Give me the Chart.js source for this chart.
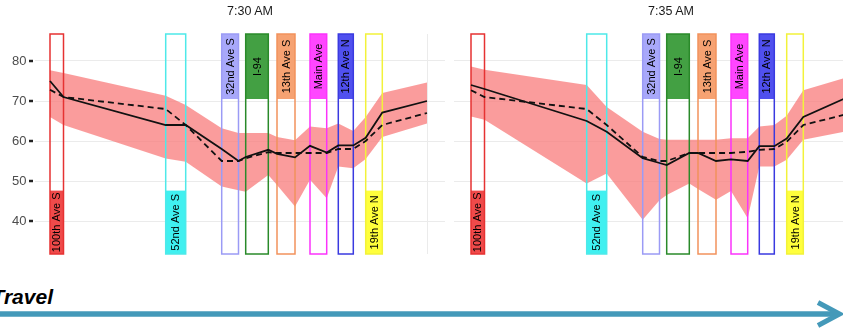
<!DOCTYPE html>
<html>
<head>
<meta charset="utf-8">
<title>Speed profile by interchange</title>
<script src="https://cdn.jsdelivr.net/npm/chart.js@4.4.1/dist/chart.umd.min.js"></script>
<style>
  html, body { margin: 0; padding: 0; background: #fff; }
  body { width: 843px; height: 335px; overflow: hidden; position: relative;
         font-family: "Liberation Sans", Arial, sans-serif; }
  canvas { position: absolute; top: 0; }
  .strip { position: absolute; top: 5.4px; font-size: 12.5px; line-height: 12.5px;
           color: #1a1a1a; transform: translateX(-50%); white-space: nowrap; }
  #travel { position: absolute; right: 790px; top: 286.2px; font-size: 21px; line-height: 21px;
            font-weight: bold; font-style: italic; color: #000; white-space: nowrap; }
  svg { position: absolute; left: 0; top: 0; }
</style>
</head>
<body>
<canvas id="am730" width="445" height="256" style="left:0"></canvas>
<canvas id="am735" width="420" height="256" style="left:446px"></canvas>
<div class="strip" style="left:250px">7:30 AM</div>
<div class="strip" style="left:671px">7:35 AM</div>
<div id="travel">Travel</div>
<svg width="843" height="335">
  <line x1="0" y1="314" x2="836" y2="314" stroke="#4499b9" stroke-width="5.5"/>
  <polyline points="818,302.5 839.5,314 818,325.5" fill="none" stroke="#4499b9" stroke-width="5" stroke-linejoin="miter"/>
</svg>
<script>
// Corridor position of each detector (arbitrary distance units along the route)
const milepost = [1.5, 2.85, 13.07, 15.07, 18.67, 20.35, 21.07, 23.33, 24.2, 26.0, 27.5, 29.17, 30.33, 31.83, 33.07, 34.73, 39.2];

// Interchange zones along the corridor
const interchanges = ['100th Ave S', '52nd Ave S', '32nd Ave S', 'I-94', '13th Ave S', 'Main Ave', '12th Ave N', '19th Ave N'];
const zoneStart = [1.5, 13.07, 18.67, 21.07, 24.2, 27.5, 30.33, 33.07];
const zoneEnd   = [2.85, 15.07, 20.35, 23.33, 26.0, 29.17, 31.83, 34.73];
const labelOnTop = [false, false, true, true, true, true, true, false];

// Speeds (mph) at 7:30 AM
const mean730   = [75, 71, 64, 64, 58, 55, 56, 57.8, 56.8, 55.9, 58.8, 57.1, 58.9, 58.9, 60.8, 67.1, 70];
const median730 = [72.8, 71, 68, 64, 55, 55, 55.7, 57.2, 57, 57, 57, 57, 58, 58, 60, 64, 67];
const upper730  = [77.7, 77, 71.3, 69, 63.2, 62, 62, 62, 61, 60.2, 63.6, 63.2, 64.4, 62.5, 66, 72, 74.6];
const lower730  = [66, 64, 55.6, 54.8, 48.6, 47.7, 47.3, 51.5, 49, 43.6, 50.3, 45.7, 53.6, 53.2, 55.5, 61, 64.4];

// Speeds (mph) at 7:35 AM
const mean735   = [74, 73, 65, 62.3, 55.7, 54.5, 54, 57, 57, 55, 55.4, 55, 58.7, 58.7, 60.6, 66, 71];
const median735 = [72.7, 71, 68, 64, 56, 55, 55, 57, 57, 57, 57, 57.3, 57.8, 58, 59.8, 64, 66.8];
const upper735  = [78.6, 77.8, 74, 68.5, 62.3, 60.5, 60.3, 60.3, 60.3, 60.3, 60.7, 60.7, 63.6, 64, 66.3, 72.7, 76];
const lower735  = [66.1, 65.3, 49.4, 51.9, 40.3, 45.2, 46.5, 49.4, 48, 45.3, 47.5, 40.7, 53.6, 53.6, 55.3, 60.3, 62.5];

const yTicks = [40, 50, 60, 70, 80];
const verticalGrid = [39.2];

const zoneLine = ['#e63232', '#4ee9e9', '#9b9bf5', '#2a8a2a', '#f2925c', '#fb33fb', '#3a3ae0', '#f2f23a'];
const zoneFill = ['#ef4a4a', '#40f0f0', '#a8a8fa', '#43a043', '#f6a272', '#ff46ff', '#5050ef', '#ffff3c'];
const topBoxBottom = 70.5;   // lower edge of the label boxes at the top
const bottomBoxTop = 47.6;   // upper edge of the label boxes at the bottom

const pts = (vals) => vals.map((v, i) => ({ x: milepost[i], y: v }));

// Interchange outlines and labels, drawn above the band and below the speed lines
const zonePlugin = {
  id: 'zones',
  afterDatasetDraw(chart, args) {
    if (args.index !== 2) return;
    const { ctx, chartArea: a, scales: { x, y } } = chart;
    ctx.save();
    for (let i = 0; i < interchanges.length; i++) {
      const x0 = x.getPixelForValue(zoneStart[i]);
      const x1 = x.getPixelForValue(zoneEnd[i]);
      const yA = labelOnTop[i] ? a.top : y.getPixelForValue(bottomBoxTop);
      const yB = labelOnTop[i] ? y.getPixelForValue(topBoxBottom) : a.bottom;
      ctx.fillStyle = zoneFill[i];
      ctx.fillRect(x0, yA, x1 - x0, yB - yA);
      ctx.strokeStyle = zoneLine[i];
      ctx.lineWidth = 1.5;
      ctx.strokeRect(x0, a.top, x1 - x0, a.bottom - a.top);
      ctx.save();
      ctx.translate((x0 + x1) / 2 + 0.5, (yA + yB) / 2);
      ctx.rotate(-Math.PI / 2);
      ctx.fillStyle = '#000';
      ctx.font = '11px "Liberation Sans", Arial, sans-serif';
      ctx.textAlign = 'center';
      ctx.textBaseline = 'middle';
      ctx.fillText(interchanges[i], 0, 0);
      ctx.restore();
    }
    ctx.restore();
  }
};

// Speed labels with short dark tick marks on the left edge
const speedAxisPlugin = {
  id: 'speedAxis',
  afterDraw(chart, args, opts) {
    if (!opts.show) return;
    const { ctx, chartArea: a, scales: { y } } = chart;
    ctx.save();
    ctx.strokeStyle = '#222';
    ctx.lineWidth = 2.5;
    ctx.fillStyle = '#4d4d4d';
    ctx.font = '13px "Liberation Sans", Arial, sans-serif';
    ctx.textAlign = 'right';
    ctx.textBaseline = 'middle';
    for (const v of yTicks) {
      const py = y.getPixelForValue(v);
      ctx.beginPath();
      ctx.moveTo(a.left - 6, py);
      ctx.lineTo(a.left - 2, py);
      ctx.stroke();
      ctx.fillText(String(v), a.left - 8.5, py + 0.5);
    }
    ctx.restore();
  }
};

function speedChart(id, mean, median, upper, lower, cfg) {
  return new Chart(document.getElementById(id), {
    type: 'line',
    data: {
      datasets: [
        { data: pts(mean), borderColor: '#111', borderWidth: 1.8, pointRadius: 0, fill: false },
        { data: pts(median), borderColor: '#111', borderWidth: 1.8, borderDash: [6, 4], pointRadius: 0, fill: false },
        { data: pts(upper), borderColor: 'rgba(0,0,0,0)', borderWidth: 0, pointRadius: 0,
          fill: '+1', backgroundColor: 'rgba(248,118,118,0.72)' },
        { data: pts(lower), borderColor: 'rgba(0,0,0,0)', borderWidth: 0, pointRadius: 0, fill: false }
      ]
    },
    options: {
      responsive: false,
      animation: false,
      devicePixelRatio: 1,
      events: [],
      layout: { padding: { top: 34, bottom: 2, left: 0, right: 0 } },
      plugins: {
        legend: { display: false },
        tooltip: { enabled: false },
        speedAxis: { show: cfg.labels }
      },
      scales: {
        x: {
          type: 'linear', min: cfg.xMin, max: 41,
          afterFit: (s) => { s.height = 0; },
          afterBuildTicks: (s) => { s.ticks = verticalGrid.map(v => ({ value: v })); },
          ticks: { display: false },
          grid: { color: '#ebebeb', lineWidth: 1, drawTicks: false },
          border: { display: false }
        },
        y: {
          min: 31.75, max: 86.75,
          afterFit: (s) => { s.width = cfg.yWidth; },
          afterBuildTicks: (s) => { s.ticks = yTicks.map(v => ({ value: v })); },
          ticks: { display: false },
          grid: { color: '#ebebeb', lineWidth: 1, drawTicks: false },
          border: { display: false }
        }
      }
    },
    plugins: [zonePlugin, speedAxisPlugin]
  });
}

speedChart('am730', mean730, median730, upper730, lower730, { xMin: 0, yWidth: 35, labels: true });
speedChart('am735', mean735, median735, upper735, lower735, { xMin: -0.2, yWidth: 8, labels: false });
</script>
</body>
</html>
